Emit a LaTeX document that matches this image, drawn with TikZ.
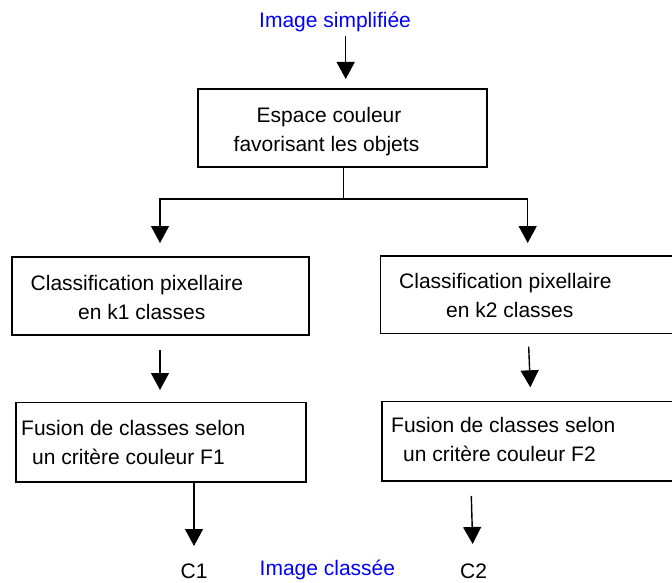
\documentclass[tikz,border=0pt]{standalone}
\usepackage{fontspec}
\setmainfont{Liberation Sans}
\usetikzlibrary{arrows.meta}
\begin{document}
\begin{tikzpicture}[x=1pt,y=-1pt,
  boxst/.style={draw=black,line width=1.6pt,rectangle,inner sep=0pt},
  txt/.style={anchor=base west,inner sep=0pt,font=\fontsize{21}{25}\selectfont},
  bluetxt/.style={txt,text=blue},
  conn/.style={line width=1.4pt},
  arr/.style={line width=1.4pt,-{Triangle[width=18pt,length=17pt]}}]
\useasboundingbox (0,0) rectangle (672,583);
% boxes
\node[boxst,minimum width=289pt,minimum height=78pt] (top) at (342.5,128) {};
\node[boxst,minimum width=297pt,minimum height=78pt] (k1) at (160.3,295.8) {};
\node[boxst,minimum width=320pt,minimum height=77.5pt] (k2) at (540.3,294.8) {};
\node[boxst,minimum width=290pt,minimum height=79.5pt] (f1) at (160.7,442.2) {};
\node[boxst,minimum width=318pt,minimum height=79.3pt] (f2) at (541,441.3) {};
% texts
\node[bluetxt] (tin) at (259,28) {Image simplifiée};
\node[txt] (ta1) at (256.5,123) {Espace couleur};
\node[txt] (ta2) at (233.5,152) {favorisant les objets};
\node[txt] (tb1) at (30.5,290) {Classification pixellaire};
\node[txt] (tb2) at (78,319.3) {en k1 classes};
\node[txt] (tc1) at (399,288.3) {Classification pixellaire};
\node[txt] (tc2) at (446,317.3) {en k2 classes};
\node[txt] (td1) at (21,435) {Fusion de classes selon};
\node[txt] (td2) at (32,464) {un critère couleur F1};
\node[txt] (te1) at (391,432.3) {Fusion de classes selon};
\node[txt] (te2) at (403,461.7) {un critère couleur F2};
\node[txt] (c1) at (180.5,578) {C1};
\node[txt] (c2) at (460,578) {C2};
\node[bluetxt] (tout) at (259.5,575) {Image classée};
% connector points
\coordinate (ins) at (345.7,36);
\coordinate (ine) at (345.7,79);
\coordinate (sp) at (343.3,199);
\coordinate (spl) at (160,199);
\coordinate (spr) at (527.7,199);
\coordinate (k1in) at (160,243);
\coordinate (k2in) at (527.7,243);
\coordinate (k1s) at (160,350);
\coordinate (f1in) at (160,390);
\coordinate (k2s) at (528.7,346.7);
\coordinate (f2in) at (530.3,387.3);
\coordinate (f1s) at (194,482.5);
\coordinate (c1in) at (194,546);
\coordinate (f2s) at (471.3,496);
\coordinate (c2in) at (472.7,544);
% connectors
\draw[arr] (ins) -- (ine);
\draw[conn] (top.south -| sp) -- (sp);
\draw[arr] (sp) -- (spl) -- (k1in);
\draw[arr] (sp) -- (spr) -- (k2in);
\draw[arr] (k1s) -- (f1in);
\draw[arr] (k2s) -- (f2in);
\draw[arr] (f1s) -- (c1in);
\draw[arr] (f2s) -- (c2in);
\end{tikzpicture}
\end{document}
